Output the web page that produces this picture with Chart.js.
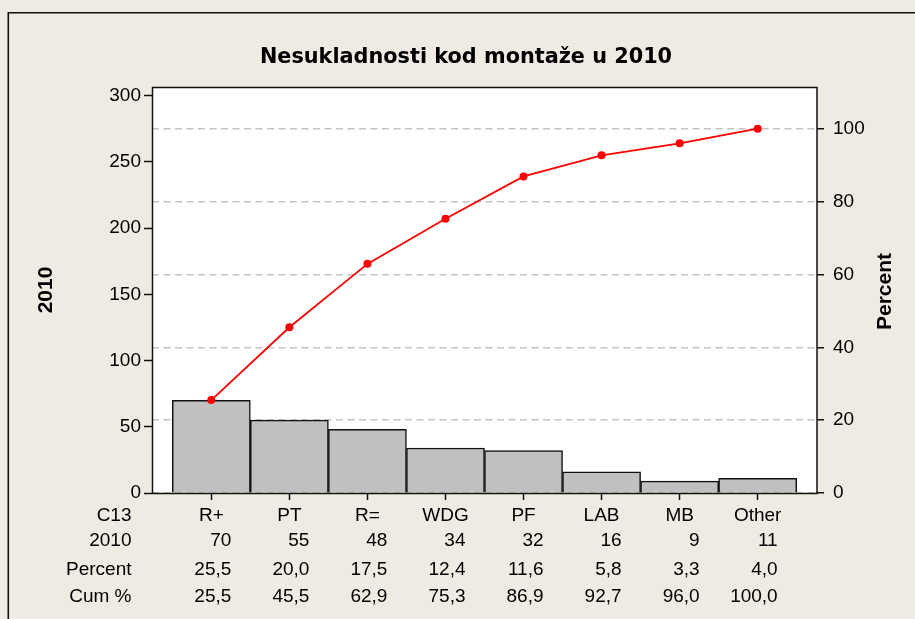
<!DOCTYPE html>
<html>
<head>
<meta charset="utf-8">
<script src="https://cdn.jsdelivr.net/npm/chart.js@4.4.1/dist/chart.umd.min.js"></script>
<style>
html,body{margin:0;padding:0;background:#EFEBE2;}
#wrap{width:915px;height:619px;position:relative;}
</style>
</head>
<body>
<div id="wrap"><canvas id="c" width="915" height="619"></canvas></div>
<script>
const categories = ['R+', 'PT', 'R=', 'WDG', 'PF', 'LAB', 'MB', 'Other'];
const counts = [70, 55, 48, 34, 32, 16, 9, 11];
const percents = [25.5, 20.0, 17.5, 12.4, 11.6, 5.8, 3.3, 4.0];
const cumPercents = [25.5, 45.5, 62.9, 75.3, 86.9, 92.7, 96.0, 100.0];
const countTicks = [0, 50, 100, 150, 200, 250, 300];
const percentTicks = [0, 20, 40, 60, 80, 100];
const rowLabels = ['C13', '2010', 'Percent', 'Cum %'];
const chartTitle = 'Nesukladnosti kod montaže u 2010';
const leftAxisTitle = '2010';
const rightAxisTitle = 'Percent';

const total = counts.reduce((s, v) => s + v, 0);
const countMax = 306.5;
const percentMax = countMax * 100 / total;

const FONT = '"Liberation Sans", Arial, sans-serif';
const fmt = v => v.toFixed(1).replace('.', ',');

const decor = {
  id: 'decor',
  beforeDraw(chart) {
    const {ctx, chartArea: a, width, height} = chart;
    ctx.save();
    ctx.fillStyle = '#EFEBE2';
    ctx.fillRect(0, 0, width, height);
    ctx.fillStyle = '#FFFFFF';
    ctx.fillRect(a.left, a.top, a.right - a.left, a.bottom - a.top);
    ctx.strokeStyle = '#111';
    ctx.lineWidth = 1.6;
    ctx.beginPath();
    ctx.moveTo(8.3, height);
    ctx.lineTo(8.3, 12.7);
    ctx.lineTo(width, 12.7);
    ctx.stroke();
    ctx.restore();
  },
  afterDatasetsDraw(chart) {
    const {ctx, chartArea: a} = chart;
    ctx.save();
    ctx.strokeStyle = '#111';
    ctx.lineWidth = 1.5;
    ctx.strokeRect(a.left + 0.5, a.top + 0.5, a.right - a.left - 0.5, a.bottom - a.top);
    ctx.restore();
  },
  afterDraw(chart) {
    const {ctx} = chart;
    const xs = chart.scales.x;
    ctx.save();
    ctx.fillStyle = '#000';
    ctx.font = 'bold 20.8px "DejaVu Sans", sans-serif';
    ctx.textAlign = 'center';
    ctx.textBaseline = 'alphabetic';
    ctx.fillText(chartTitle, 466, 63.3);
    ctx.save();
    ctx.translate(885, 291.5);
    ctx.rotate(-Math.PI / 2);
    ctx.font = 'bold 21px ' + FONT;
    ctx.textAlign = 'center';
    ctx.textBaseline = 'middle';
    ctx.fillText(rightAxisTitle, 0, 0);
    ctx.restore();
    ctx.font = '19px ' + FONT;
    const baselines = [521, 546, 575, 602];
    ctx.textAlign = 'right';
    rowLabels.forEach((t, r) => ctx.fillText(t, 131.5, baselines[r]));
    const rows = [counts.map(String), percents.map(fmt), cumPercents.map(fmt)];
    rows.forEach((vals, r) => {
      vals.forEach((t, i) => {
        ctx.fillText(t, xs.getPixelForValue(i) + 20, baselines[r + 1]);
      });
    });
    ctx.restore();
  }
};

new Chart(document.getElementById('c'), {
  type: 'bar',
  data: {
    datasets: [
      {
        type: 'line',
        label: 'Cum %',
        data: cumPercents.map((v, i) => ({x: i, y: v})),
        xAxisID: 'x',
        yAxisID: 'y2',
        borderColor: '#FF0000',
        borderWidth: 1.8,
        pointRadius: 4,
        pointBackgroundColor: '#FF0000',
        pointBorderColor: '#FF0000',
        pointBorderWidth: 0,
        tension: 0,
        order: 0
      },
      {
        type: 'bar',
        label: '2010',
        data: counts.map((v, i) => ({x: i, y: v})),
        xAxisID: 'x',
        yAxisID: 'y',
        backgroundColor: '#C0C0C0',
        borderColor: '#111',
        borderWidth: 1.5,
        borderSkipped: 'start',
        barPercentage: 1,
        categoryPercentage: 1,
        order: 1
      }
    ]
  },
  options: {
    responsive: false,
    animation: false,
    devicePixelRatio: 1,
    layout: {padding: {top: 87, left: 0, right: 0, bottom: 0}},
    plugins: {
      legend: {display: false},
      tooltip: {enabled: false},
      title: {display: false}
    },
    scales: {
      x: {
        type: 'linear',
        position: 'bottom',
        min: -0.76,
        max: 7.76,
        offset: false,
        afterBuildTicks: s => { s.ticks = categories.map((_, i) => ({value: i})); },
        afterFit: s => { s.height = 126; },
        grid: {display: true, offset: false, drawOnChartArea: false, drawTicks: true, tickLength: 7, tickColor: '#111', tickWidth: 1.5},
        border: {display: false},
        ticks: {
          autoSkip: false, maxRotation: 0, minRotation: 0, padding: 4, color: '#000',
          font: {family: FONT, size: 19},
          callback: v => categories[Math.round(v)]
        }
      },
      y: {
        type: 'linear',
        position: 'left',
        min: 0,
        max: countMax,
        afterBuildTicks: s => { s.ticks = countTicks.map(v => ({value: v})); },
        afterFit: s => { s.width = 152; },
        grid: {display: true, drawOnChartArea: false, drawTicks: true, tickLength: 8, tickColor: '#111', tickWidth: 1.5},
        border: {display: false},
        ticks: {padding: 3, color: '#000', font: {family: FONT, size: 19}},
        title: {display: true, text: leftAxisTitle, color: '#000', font: {family: FONT, size: 21, weight: 'bold'}, padding: {top: 34, bottom: 0}}
      },
      y2: {
        type: 'linear',
        position: 'right',
        min: 0,
        max: percentMax,
        afterBuildTicks: s => { s.ticks = percentTicks.map(v => ({value: v})); },
        afterFit: s => { s.width = 98; },
        grid: {display: true, drawOnChartArea: true, drawTicks: true, tickLength: 7, color: '#C4C4C4', lineWidth: 1.5, tickColor: '#111', tickWidth: 1.5, tickBorderDash: []},
        border: {display: false, dash: [7, 4.5]},
        ticks: {padding: 9, color: '#000', font: {family: FONT, size: 19}}
      }
    }
  },
  plugins: [decor]
});
</script>
</body>
</html>
